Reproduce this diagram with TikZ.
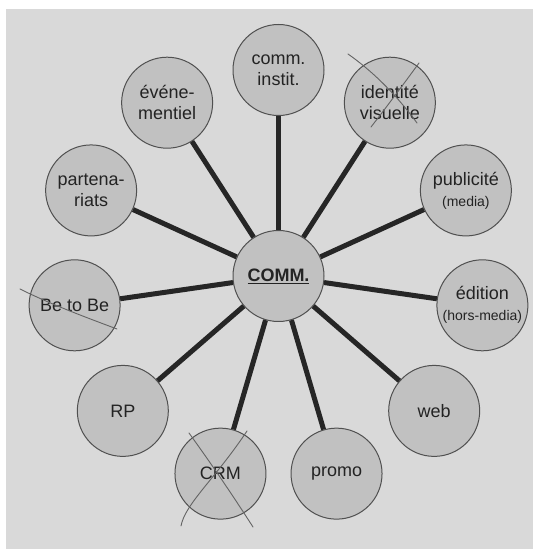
\documentclass[tikz,border=0pt]{standalone}
\usepackage{fontspec}
\setmainfont{Liberation Sans}
\usepackage{tikz}
\usetikzlibrary{calc}
\definecolor{paper}{RGB}{217,217,217}
\definecolor{bubblegray}{RGB}{193,193,193}
\definecolor{rimgray}{RGB}{80,80,80}
\definecolor{pencil}{RGB}{100,100,100}
\definecolor{ink}{RGB}{35,35,35}
\newcommand{\subnote}[1]{{\fontsize{14}{16}\selectfont #1}}

\begin{document}
\begin{tikzpicture}[x=1pt,y=1pt,
    bubble/.style={circle,draw=rimgray,line width=1pt,fill=bubblegray,
        minimum size=91pt,inner sep=0pt,align=center,text=ink,
        font=\fontsize{18}{21}\selectfont},
    spoke/.style={line width=5pt,black!85},
    strike/.style={draw=pencil,line width=0.9pt,line cap=round}]
% sheet of paper
\fill[white] (0,0) rectangle (533,549);
\fill[paper] (6,0) rectangle (533,540);
% hub
\node[bubble] (comm) at (278.5,273) {\textbf{\underline{COMM.}}};
% satellites and spokes
\foreach \i/\txt in {0/{comm.\\instit.}, 1/{identité\\visuelle},
    2/{publicité\\\subnote{(media)}}, 3/{édition\\\subnote{(hors-media)}},
    4/web, 5/promo, 6/CRM, 7/RP, 8/Be to Be,
    9/{partena-\\riats}, 10/{événe-\\mentiel}} {
    \node[bubble] (s\i) at ($(comm)+({90-\i*360/11}:206)$) {\txt};
    \draw[spoke] (comm) -- (s\i);
}
% crossed out by hand
\draw[strike] (348,495) .. controls (375,476) and (398,452) .. (417,426);
\draw[strike] (419,486) .. controls (400,460) and (385,440) .. (371,422);
\draw[strike] (189,116) .. controls (215,80) and (235,50) .. (253,22);
\draw[strike] (247,118) .. controls (215,70) and (185,45) .. (181,23);
\draw[strike] (20,260) .. controls (50,245) and (85,232) .. (117,220);
\end{tikzpicture}
\end{document}
